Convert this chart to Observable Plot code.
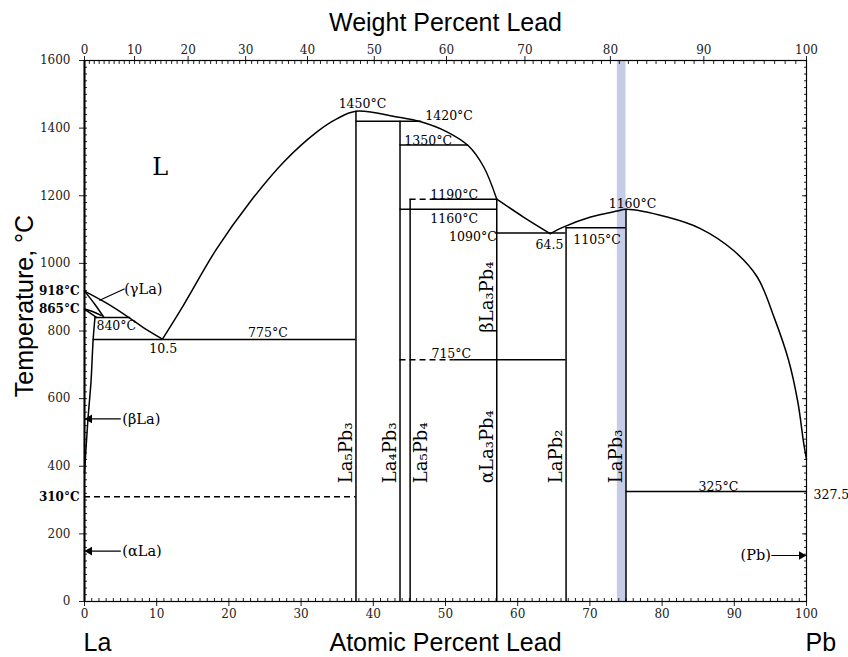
<!DOCTYPE html>
<html>
<head>
<meta charset="utf-8">
<script src="https://cdn.jsdelivr.net/npm/d3@7"></script>
<script src="https://cdn.jsdelivr.net/npm/@observablehq/plot@0.6"></script>
<style>
  html, body { margin: 0; padding: 0; background: #fff; }
</style>
</head>
<body>
<div id="chart"></div>
<script>
// ---------- axis ticks ----------
const atTicks = [0, 10, 20, 30, 40, 50, 60, 70, 80, 90, 100];          // atomic % Pb (bottom)
const atMinor = d3.range(0, 101, 1);
const tTicks = [0, 200, 400, 600, 800, 1000, 1200, 1400, 1600];        // temperature
const tMinor = d3.range(0, 1601, 20);
const wtTicks = [0, 10, 20, 30, 40, 50, 60, 70, 80, 90, 100];          // weight % Pb (top)
const wtMinor = d3.range(0, 101, 1);
const massLa = 138.905, massPb = 207.2;
const wtToAt = w => 100 * (w / massPb) / (w / massPb + (100 - w) / massLa);

// ---------- phase boundaries (atomic % Pb, °C) ----------
const liquidusLa = [[0, 918], [3.0, 883], [5.8, 845], [8.1, 811], [10.8, 776]];
const liquidusMid = [[10.8, 776], [13.7, 876], [18.3, 1043], [22.9, 1181], [27.6, 1300], [32.2, 1389], [35.0, 1428], [37.6, 1450], [43.3, 1433], [46.7, 1418], [50.2, 1389], [53.2, 1347], [55.3, 1285], [57.1, 1190]];
const liquidusEut = [[57.1, 1190], [60.8, 1137], [64.5, 1088]];
const liquidusPb = [[64.5, 1088], [66.4, 1108], [70.1, 1137], [73.8, 1155], [75.0, 1160], [80.7, 1137], [85.3, 1103], [89.9, 1038], [93.2, 959], [95.5, 841], [97.5, 715], [98.8, 590], [99.6, 470], [100, 420]];
const gammaSolidus = [[0, 918], [1.4, 880], [2.7, 840]];
const gammaBetaA = [[0, 865], [1.65, 840]];
const gammaBetaB = [[0, 865], [1.2, 857], [2.3, 846]];
const betaSolvus = [[1.45, 840], [1.2, 775], [0.9, 650], [0.5, 545], [0.2, 450], [0, 380]];
const gammaPointer = [[5.5, 924], [2.1, 891]];

// ---------- compounds ----------
const compoundNames = ["La₅Pb₃", "La₄Pb₃", "La₅Pb₄", "αLa₃Pb₄", "LaPb₂", "LaPb₃"];
const compoundX = [37.6, 43.7, 45.1, 57.1, 66.7, 75.0];
const compoundTop = [1450, 1420, 1190, 1190, 1105, 1160];
const highlightFrom = [73.8];
const highlightTo = [75.0];

// ---------- invariant lines ----------
const isoT = [1420, 1350, 1190, 1160, 1090, 1105, 840, 775, 715, 325];
const isoFrom = [37.6, 43.7, 47.9, 43.7, 57.1, 66.7, 1.45, 1.2, 51.2, 75.0];
const isoTo = [46.7, 53.2, 57.1, 57.1, 66.7, 75.0, 6.4, 37.6, 66.7, 100];
const dashT = [310, 1190, 715];
const dashFrom = [0, 45.1, 43.7];
const dashTo = [37.6, 47.9, 51.2];

// ---------- annotations ----------
const tLabels = ["1450°C", "1420°C", "1350°C", "1190°C", "1160°C", "1090°C", "64.5", "1105°C", "1160°C", "10.5", "775°C", "840°C", "715°C", "325°C"];
const tLabelX = [38.5, 50.5, 47.6, 51.2, 51.2, 53.8, 64.4, 71.0, 75.9, 10.9, 25.4, 4.4, 50.8, 87.8];
const tLabelT = [1472, 1436, 1362, 1202, 1131, 1077, 1055, 1069, 1175, 747, 794, 816, 732, 338];
const sideLabels = ["918°C", "865°C", "310°C"];
const sideLabelT = [918, 865, 310];
const phaseArrowLabels = ["(βLa)", "(αLa)", "(Pb)"];
const phaseArrowT = [540, 149, 136];
const phaseArrowFrom = [5.1, 5.1, 95.2];
const phaseArrowTo = [0, 0, 100];
const endLabels = ["La", "Pb"];
const endX = [0, 100];

// ---------- tables built from the arrays ----------
const pts = a => a.map(([x, t]) => ({x, t}));
const compounds = compoundNames.map((name, i) => ({name, x: compoundX[i], top: compoundTop[i]}));
const isotherms = isoT.map((t, i) => ({t, x1: isoFrom[i], x2: isoTo[i]}));
const dashed = dashT.map((t, i) => ({t, x1: dashFrom[i], x2: dashTo[i]}));
const tLabelData = tLabels.map((s, i) => ({s, x: tLabelX[i], t: tLabelT[i]}));
const arrows = phaseArrowLabels.map((s, i) => ({s, t: phaseArrowT[i], from: phaseArrowFrom[i], to: phaseArrowTo[i]}));
const highlight = highlightFrom.map((x1, i) => ({x1, x2: highlightTo[i]}));
const topTicks = wtTicks.map(w => ({w, x: wtToAt(w)}));

const serif = "'DejaVu Serif', 'Liberation Serif', serif";
const sans = "'Liberation Sans', Arial, sans-serif";
const lw = 1.5;
const curveOpts = {x: "x", y: "t", stroke: "black", strokeWidth: lw, curve: "catmull-rom"};

const chart = Plot.plot({
  width: 848,
  height: 657,
  marginLeft: 84,
  marginRight: 42,
  marginTop: 60,
  marginBottom: 56,
  x: {domain: [0, 100]},
  y: {domain: [0, 1600]},
  style: {fontFamily: serif, fontSize: "12px", background: "white", color: "#222", overflow: "visible"},
  marks: [
    Plot.rectX(highlight, {x1: "x1", x2: "x2", fill: "#c4cce8"}),
    // axes
    Plot.axisX({anchor: "bottom", ticks: atMinor, tickSize: -3, tickFormat: () => "", label: null}),
    Plot.axisX({anchor: "bottom", ticks: atTicks, tickSize: 5, tickPadding: 3, fontSize: 12, label: null}),
    Plot.axisX({anchor: "top", ticks: wtMinor.map(wtToAt), tickSize: -3, tickFormat: () => "", label: null}),
    Plot.axisX({anchor: "top", ticks: topTicks.map(d => d.x), tickSize: 5, tickFormat: () => "", label: null}),
    Plot.text(topTicks, {x: "x", text: d => String(d.w), frameAnchor: "top", lineAnchor: "bottom", dy: -7, fontSize: 12, fill: "#222"}),
    Plot.axisY({anchor: "left", ticks: tMinor, tickSize: -3, tickFormat: () => "", label: null}),
    Plot.axisY({anchor: "left", ticks: tTicks, tickSize: 5, tickPadding: 9, fontSize: 12, tickFormat: d => String(d), label: null}),
    Plot.axisY({anchor: "right", ticks: tMinor, tickSize: -3, tickFormat: () => "", label: null}),
    Plot.axisY({anchor: "right", ticks: tTicks, tickSize: -5, tickFormat: () => "", label: null}),
    Plot.frame({stroke: "black", strokeWidth: 1.2}),
    // compounds
    Plot.ruleX(compounds, {x: "x", y1: 0, y2: "top", stroke: "black", strokeWidth: lw}),
    // invariant lines
    Plot.ruleY(isotherms, {y: "t", x1: "x1", x2: "x2", stroke: "black", strokeWidth: lw}),
    Plot.ruleY(dashed, {y: "t", x1: "x1", x2: "x2", stroke: "black", strokeWidth: lw, strokeDasharray: "6,4"}),
    // curves
    Plot.line(pts(liquidusLa), curveOpts),
    Plot.line(pts(liquidusMid), curveOpts),
    Plot.line(pts(liquidusEut), curveOpts),
    Plot.line(pts(liquidusPb), curveOpts),
    Plot.line(pts(gammaSolidus), curveOpts),
    Plot.line(pts(gammaBetaA), curveOpts),
    Plot.line(pts(gammaBetaB), curveOpts),
    Plot.line(pts(betaSolvus), curveOpts),
    Plot.line(pts(gammaPointer), {x: "x", y: "t", stroke: "black", strokeWidth: 1.2}),
    Plot.ruleX([0], {stroke: "black", strokeWidth: 2}),
    // arrows to the pure-element phases
    Plot.ruleY(arrows, {y: "t", x1: "from", x2: "to", stroke: "black", strokeWidth: 1.2}),
    Plot.dot(arrows.filter(d => d.to < d.from), {x: "to", y: "t", symbol: "triangle", rotate: -90, r: 3.2, fill: "black", dx: 5}),
    Plot.dot(arrows.filter(d => d.to > d.from), {x: "to", y: "t", symbol: "triangle", rotate: 90, r: 3.2, fill: "black", dx: -5}),
    Plot.text(arrows.filter(d => d.to < d.from), {x: "from", y: "t", text: "s", textAnchor: "start", dx: 1, fontSize: 14.5, fill: "black"}),
    Plot.text(arrows.filter(d => d.to > d.from), {x: "from", y: "t", text: "s", textAnchor: "end", dx: -1, fontSize: 14.5, fill: "black"}),
    Plot.text(["(γLa)"], {x: () => 5.5, y: () => 924, text: d => d, textAnchor: "start", fontSize: 14.5, fill: "black"}),
    Plot.text(["L"], {x: () => 10.5, y: () => 1283, text: d => d, fontSize: 24, fill: "black"}),
    // compound labels
    Plot.text(compounds.filter(d => d.name !== "La₅Pb₄"), {x: "x", y: () => 350, text: "name", rotate: -90, textAnchor: "start", dx: -10, fontSize: 18, fill: "black"}),
    Plot.text(compounds.filter(d => d.name === "La₅Pb₄"), {x: "x", y: () => 350, text: "name", rotate: -90, textAnchor: "start", dx: 11, fontSize: 18, fill: "black"}),
    Plot.text(["βLa₃Pb₄"], {x: () => 57.1, y: () => 795, text: d => d, rotate: -90, textAnchor: "start", dx: -10, fontSize: 18, fill: "black"}),
    // temperature labels
    Plot.text(tLabelData, {x: "x", y: "t", text: "s", fontSize: 12.5, fill: "black"}),
    Plot.text(sideLabels, {x: () => 0, y: (d, i) => sideLabelT[i], text: d => d, textAnchor: "end", dx: -5, fontSize: 12, fontWeight: "bold", fill: "black"}),
    Plot.text(["327.5"], {x: () => 100, y: () => 327.5, text: d => d, textAnchor: "start", dx: 7, dy: 4, fontSize: 12.5, fill: "black"}),
    // titles
    Plot.text(["Weight Percent Lead"], {text: d => d, frameAnchor: "top", lineAnchor: "middle", textAnchor: "middle", dy: -38, fontFamily: sans, fontSize: 25, fill: "black"}),
    Plot.text(["Atomic Percent Lead"], {text: d => d, frameAnchor: "bottom", lineAnchor: "middle", textAnchor: "middle", dy: 41, fontFamily: sans, fontSize: 25, fill: "black"}),
    Plot.text(endLabels, {x: (d, i) => endX[i], text: d => d, frameAnchor: "bottom", lineAnchor: "middle", dy: 41, textAnchor: "start", dx: -1, fontFamily: sans, fontSize: 25, fill: "black"}),
    Plot.text(["Temperature, °C"], {text: d => d, frameAnchor: "left", lineAnchor: "middle", textAnchor: "middle", rotate: -90, dx: -60, dy: -25, fontFamily: sans, fontSize: 25, fill: "black"})
  ]
});
document.getElementById("chart").appendChild(chart);
</script>
</body>
</html>
